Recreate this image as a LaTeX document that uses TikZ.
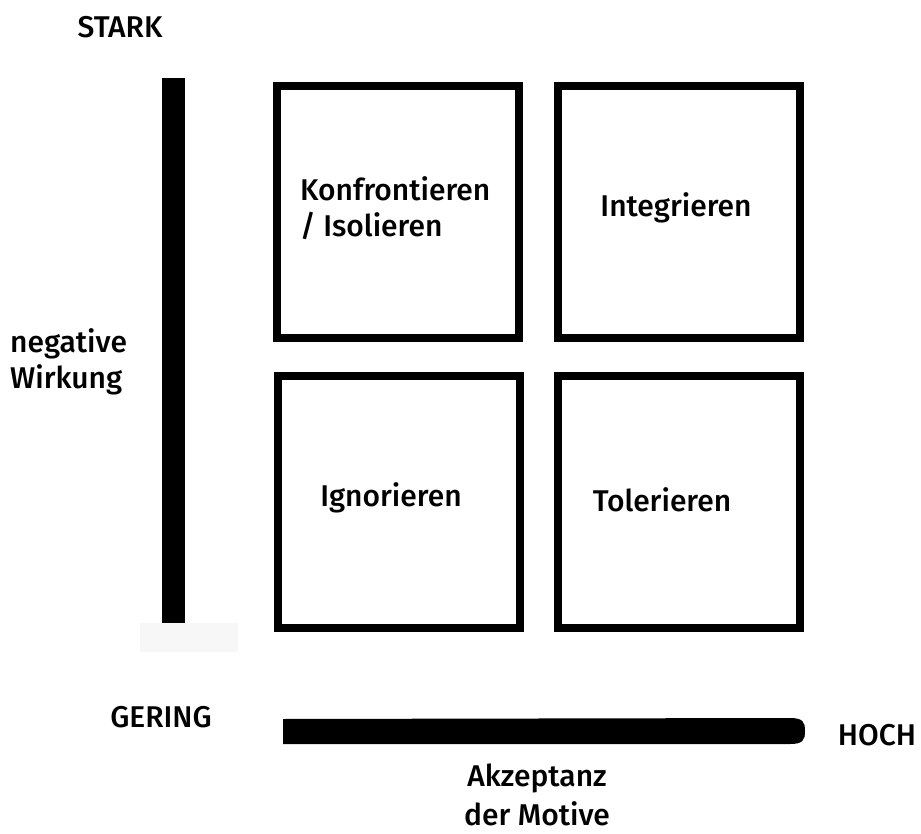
\documentclass[tikz,border=0pt]{standalone}
\usepackage{fontspec}
\setmainfont{Fira Sans}[UprightFont={* Medium}]
\begin{document}
\begin{tikzpicture}[x=1pt,y=-1pt,
  quad/.style={draw=black, line width=8pt, minimum width=242pt, minimum height=252pt, inner sep=0pt},
  lbl/.style={font=\fontsize{30}{36}\selectfont, inner sep=0pt},
  vbarstyle/.style={fill=black, draw=none, inner sep=0pt, minimum width=23pt, minimum height=545pt}]
\useasboundingbox (0,0) rectangle (921,834);
\fill[black!3] (140,623) rectangle (238,652);
\node[vbarstyle] (vbar) at (173,350.5) {};
\fill[black] (283,719) -- (790,718) .. controls (803,718) and (805,722) .. (805,731)
  .. controls (805,740) and (803,744) .. (790,744) -- (283,744) -- cycle;
\node[quad] (tl) at (397.5,212) {};
\node[quad] (tr) at (679,212) {};
\node[quad] (bl) at (399,502) {};
\node[quad] (br) at (679,502) {};
\node[lbl, anchor=base] (stark) at (120,38) {STARK};
\node[lbl, anchor=west, align=left] (neg) at (10,362) {negative\\Wirkung};
\node[lbl, anchor=west, align=left] (konf) at (300,208) {Konfrontieren\\/ Isolieren};
\node[lbl] (integ) at (676,208) {Integrieren};
\node[lbl] (ignor) at (391,498) {Ignorieren};
\node[lbl] (toler) at (662,500) {Tolerieren};
\node[lbl] (gering) at (161,717) {GERING};
\node[lbl] (hoch) at (877,735) {HOCH};
\node[lbl, align=center, font=\fontsize{30}{39}\selectfont] (akz) at (537,795) {Akzeptanz\\der Motive};
\end{tikzpicture}
\end{document}
